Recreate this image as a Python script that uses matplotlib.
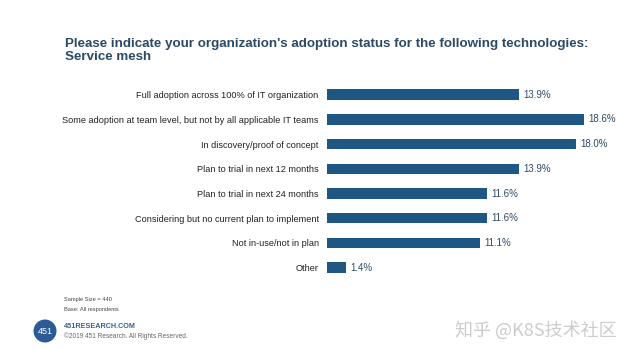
import matplotlib.pyplot as plt
from matplotlib.patches import Circle

# data
categories = ['Full adoption across 100% of IT organization',
              'Some adoption at team level, but not by all applicable IT teams',
              'In discovery/proof of concept',
              'Plan to trial in next 12 months',
              'Plan to trial in next 24 months',
              'Considering but no current plan to implement',
              'Not in-use/not in plan',
              'Other']
values = [13.9, 18.6, 18.0, 13.9, 11.6, 11.6, 11.1, 1.4]

bar_color = '#1f5784'
title_color = '#2b4a66'

plt.rcParams['font.family'] = ['Liberation Sans', 'DejaVu Sans']

fig = plt.figure(figsize=(6.4, 3.62), dpi=100)
ax = fig.add_axes([327/640, 1-280/362, (584-327)/640, (280-82.3)/362])

ypos = list(range(len(categories)))
ax.barh(ypos, values, height=0.42, color=bar_color)
ax.set_ylim(len(categories)-0.5, -0.5)
ax.set_xlim(0, 18.6)
ax.set_yticks(ypos)
ax.set_yticklabels(categories, fontsize=6.6, color='#222222')
ax.tick_params(axis='y', length=0, pad=6)
ax.set_xticks([])
for s in ax.spines.values():
    s.set_visible(False)

for y, v in zip(ypos, values):
    ax.annotate('%.1f%%' % v, (v, y), xytext=(3, 0), textcoords='offset points',
                va='center', ha='left', fontsize=7, color='#2f4a63')

# title
fig.text(65/640, 1-44/362, "Please indicate your organization's adoption status for the following technologies:",
         fontsize=9.6, fontweight='bold', color=title_color, va='center')
fig.text(65/640, 1-57/362, 'Service mesh',
         fontsize=9.6, fontweight='bold', color=title_color, va='center')

# footnotes
fig.text(64/640, 1-300/362, 'Sample Size = 440', fontsize=4.1, color='#444444', va='center')
fig.text(64/640, 1-309/362, 'Base: All respondents', fontsize=4.1, color='#444444', va='center')

# logo
logo = Circle((0.45, 0.31), 0.115, transform=fig.dpi_scale_trans,
              facecolor='#2d5b96', edgecolor='none')
fig.patches.append(logo)
fig.text(45/640, 31/362, '451', fontsize=6.5, color='white', ha='center', va='center')
fig.text(64/640, 1-327/362, '451RESEARCH.COM', fontsize=5.2, fontweight='bold',
         color='#3a5f8a', va='center')
fig.text(64/640, 1-336/362, '\u00a92019 451 Research. All Rights Reserved.', fontsize=4.7,
         color='#666666', va='center')

# watermark
fig.text(455/640, 1-330/362, '知乎 @K8S技术社区', fontsize=13, color='#cccccc',
         va='center', ha='left', family=['Noto Sans CJK SC', 'DejaVu Sans'])

fig.savefig('out.png', dpi=100)
